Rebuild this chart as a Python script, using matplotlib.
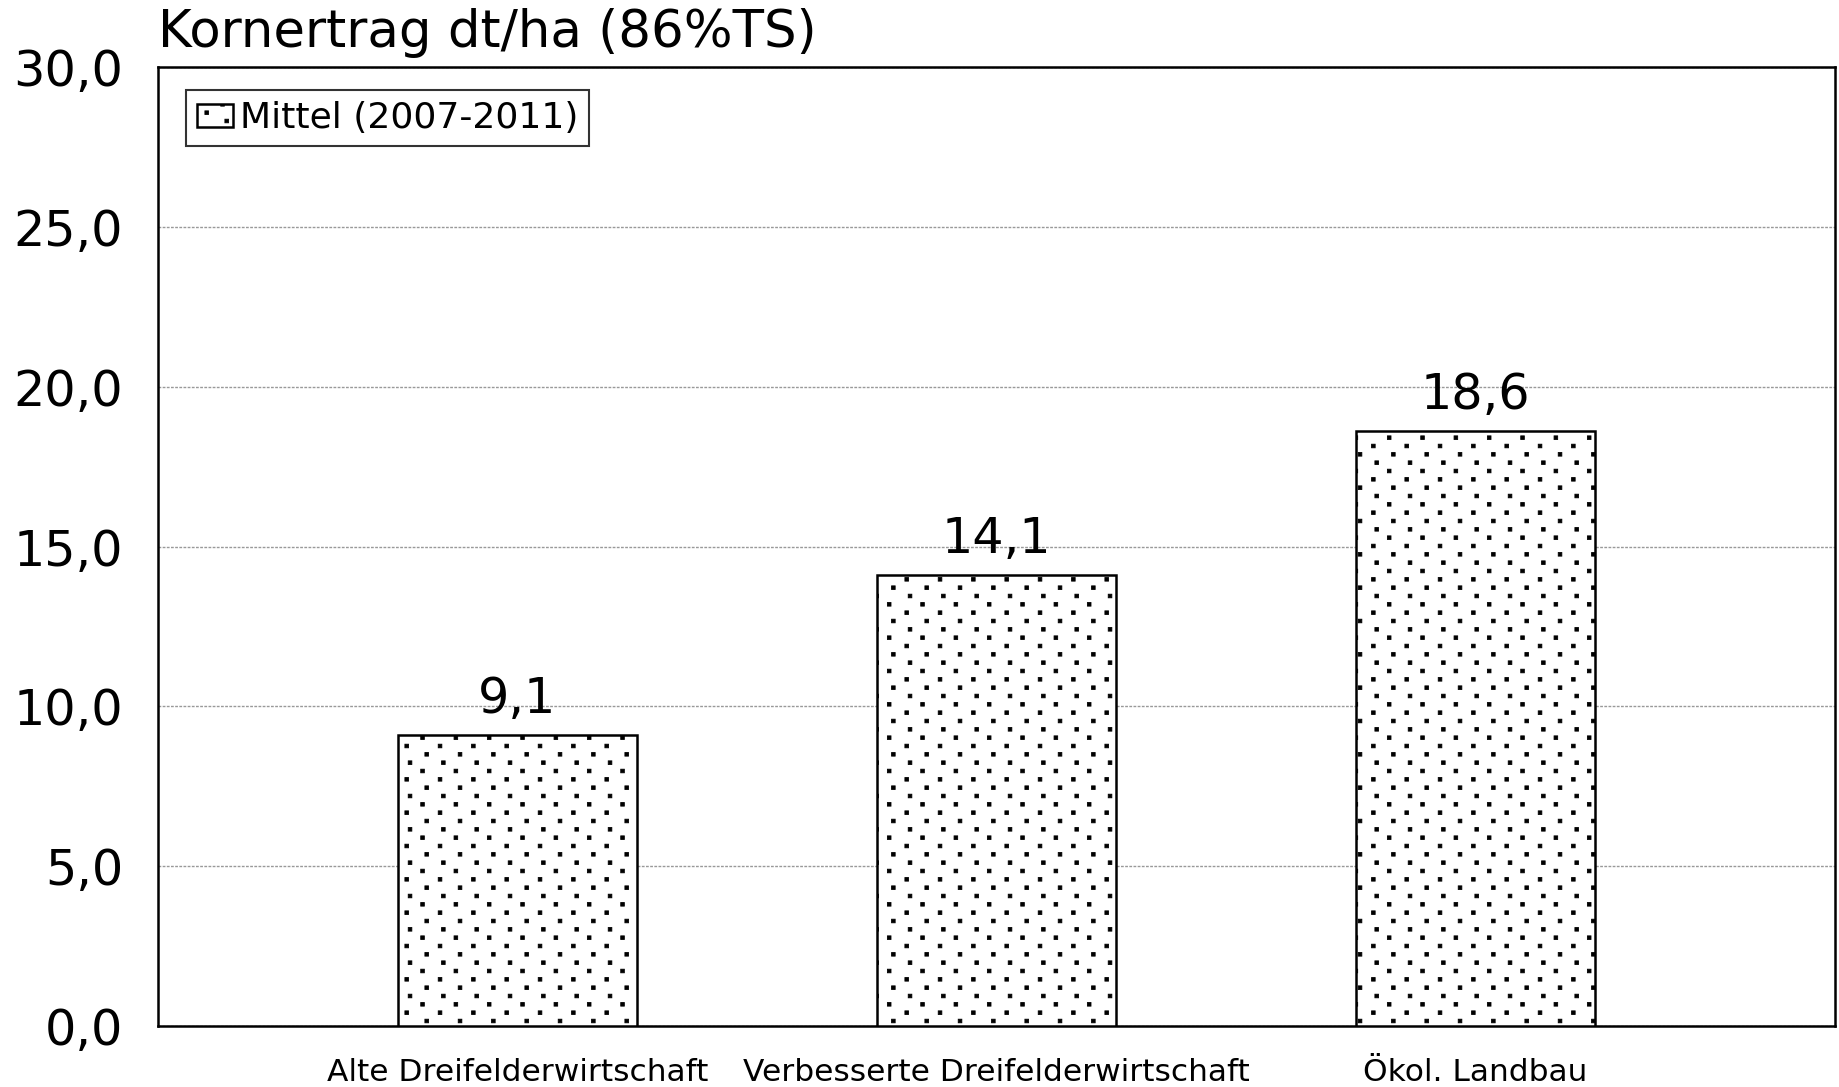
import matplotlib
matplotlib.use("Agg")
import matplotlib.pyplot as plt
import matplotlib.hatch as mhatch
from matplotlib.path import Path
import numpy as np

categories = ["Alte Dreifelderwirtschaft", "Verbesserte Dreifelderwirtschaft", "Ökol. Landbau"]
values = [9.1, 14.1, 18.6]
series_label = "Mittel (2007-2011)"
y_ticks = [0, 5, 10, 15, 20, 25, 30]
title = "Kornertrag dt/ha (86%TS)"


class SquareDots(mhatch.HatchPatternBase):
    """Staggered pattern of small filled squares (used for '.')."""
    def __init__(self, hatch, density):
        self.pts = []
        if hatch.count('.'):
            cells = 3
            p = 1.0 / cells
            offsets = [0.0, 0.5, 0.9, 0.375]
            for cy in range(cells):
                for r, off in enumerate(offsets):
                    y = (cy * p + r * p / 4 + 0.04) % 1.0
                    for cx in range(cells):
                        x = ((cx + off) * p + 0.767) % 1.0
                        self.pts.append((x, y))
        self.half = 0.018
        self.num_vertices = len(self.pts) * 5

    def set_vertices_and_codes(self, vertices, codes):
        h = self.half
        for i, (x, y) in enumerate(self.pts):
            vertices[i*5:(i+1)*5] = [(x-h, y-h), (x+h, y-h), (x+h, y+h), (x-h, y+h), (x-h, y-h)]
            codes[i*5:(i+1)*5] = [Path.MOVETO, Path.LINETO, Path.LINETO, Path.LINETO, Path.CLOSEPOLY]


mhatch._hatch_types = [SquareDots if t is mhatch.SmallFilledCircles else t for t in mhatch._hatch_types]

plt.rcParams['font.family'] = ['DejaVu Sans']
plt.rcParams['hatch.linewidth'] = 0.6

fig = plt.figure(figsize=(18.39, 10.87), dpi=100)
ax = fig.add_axes([158/1839, 1 - 1026/1087, (1835-158)/1839, (1026-67)/1087])

x = np.arange(len(categories))
bars = ax.bar(x, values, width=0.5, color='white', edgecolor='black', linewidth=1.8,
              hatch='.', label=series_label, zorder=3)

for xi, v in zip(x, values):
    ax.annotate(f"{v:.1f}".replace('.', ','), (xi, v), xytext=(0, 16), textcoords='offset points',
                ha='center', va='baseline', fontsize=35.5)

ax.set_xlim(-0.75, 2.75)
ax.set_ylim(0, 30)
ax.set_yticks(y_ticks)
ax.set_yticklabels([f"{t:.1f}".replace('.', ',') for t in y_ticks], fontsize=35.5)
ax.set_xticks(x)
ax.set_xticklabels(categories, fontsize=22.5)
ax.tick_params(axis='y', length=0, pad=25)
ax.tick_params(axis='x', length=0, pad=23)
ax.yaxis.grid(True, color='#999999', linestyle=(0, (2, 1)), linewidth=1.0, zorder=0)
ax.set_axisbelow(True)
for s in ax.spines.values():
    s.set_linewidth(1.8)

fig.text(158/1839, 1 - 47/1087, title, fontsize=37, ha='left', va='baseline')

leg = ax.legend(loc='upper left', bbox_to_anchor=(28/1677, 1 - 23/959), fontsize=26,
                frameon=True, fancybox=False, edgecolor='black', borderpad=0.3,
                handlelength=1.0, handleheight=0.6, handletextpad=0.2, borderaxespad=0)
leg.get_frame().set_linewidth(1.5)

fig.savefig("out.png", dpi=100)
